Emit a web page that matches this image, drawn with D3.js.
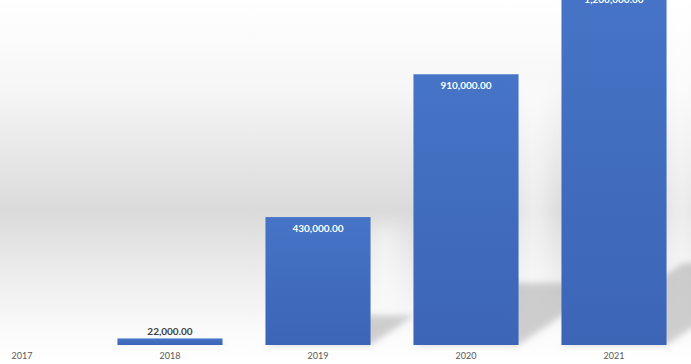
<!DOCTYPE html>
<html>
<head>
<meta charset="utf-8">
<script src="https://cdn.jsdelivr.net/npm/d3@7"></script>
<style>
  html, body { margin: 0; padding: 0; background: #fff; }
  #chart { width: 691px; height: 364px; overflow: hidden; }
  text { font-family: Lato, "Open Sans", sans-serif; }
</style>
</head>
<body>
<div id="chart"></div>
<script>
const years = ["2017", "2018", "2019", "2020", "2021"]
const amounts = [0, 22000, 430000, 910000, 1200000]
const amountLabels = ["", "22,000.00", "430,000.00", "910,000.00", "1,200,000.00"]

const width = 691
const height = 364

const svg = d3.select("#chart")
  .append("svg")
  .attr("width", width)
  .attr("height", height)

const defs = svg.append("defs")

// background: white top, grey band in the middle, white again at the floor
const bg = defs.append("linearGradient")
  .attr("id", "bg").attr("x1", 0).attr("y1", 0).attr("x2", 0).attr("y2", 1)
bg.append("stop").attr("offset", "0%").attr("stop-color", "#ffffff")
bg.append("stop").attr("offset", "25%").attr("stop-color", "#f6f6f6")
bg.append("stop").attr("offset", "58%").attr("stop-color", "#dadada")
bg.append("stop").attr("offset", "75%").attr("stop-color", "#ececec")
bg.append("stop").attr("offset", "92%").attr("stop-color", "#fbfbfb")
bg.append("stop").attr("offset", "100%").attr("stop-color", "#ffffff")

const barFill = defs.append("linearGradient")
  .attr("id", "barFill").attr("x1", 0).attr("y1", 0).attr("x2", 0).attr("y2", 1)
barFill.append("stop").attr("offset", "0%").attr("stop-color", "#4674c6")
barFill.append("stop").attr("offset", "100%").attr("stop-color", "#3c65b6")

defs.append("filter").attr("id", "soft")
  .attr("x", "-50%").attr("y", "-50%").attr("width", "200%").attr("height", "200%")
  .append("feGaussianBlur").attr("stdDeviation", 3)

defs.append("filter").attr("id", "glow")
  .attr("x", "-50%").attr("y", "-50%").attr("width", "200%").attr("height", "200%")
  .append("feGaussianBlur").attr("stdDeviation", 10)

svg.append("rect")
  .attr("width", width)
  .attr("height", height)
  .attr("fill", "url(#bg)")

// Scales (chart is cropped a little on the left and top)
const x = d3.scaleBand()
  .domain(years)
  .range([-52, 688])
  .paddingInner(0.29)
  .paddingOuter(0.145)

const y = d3.scaleLinear()
  .domain([0, 1200000])
  .range([345, -12])

const data = years.map((yr, i) => ({ year: yr, value: amounts[i], label: amountLabels[i] }))
const shown = data.filter(d => d.value > 0)

// whitish glow right of each bar
svg.append("g")
  .selectAll("rect")
  .data(shown)
  .join("rect")
  .attr("x", d => x(d.year) + x.bandwidth())
  .attr("y", d => y(d.value) + 10)
  .attr("width", 30)
  .attr("height", d => Math.max(0, y(0) - y(d.value) - 40))
  .attr("fill", "#ffffff")
  .attr("opacity", 0.55)
  .attr("filter", "url(#glow)")

// perspective shadows thrown up and to the right
svg.append("g")
  .selectAll("path")
  .data(shown)
  .join("path")
  .attr("d", d => {
    const x0 = x(d.year)
    const x1 = x0 + x.bandwidth()
    const h = y(0) - y(d.value)
    const sy = h * 0.23
    const sx = sy * 1.48
    const b = y(0)
    return `M${x0},${b}L${x1},${b}L${x1 + sx},${b - sy}L${x0 + sx},${b - sy}Z`
  })
  .attr("fill", "#9a9a9a")
  .attr("opacity", 0.45)
  .attr("filter", "url(#soft)")

// Bars
svg.append("g")
  .selectAll("rect")
  .data(shown)
  .join("rect")
  .attr("x", d => x(d.year))
  .attr("y", d => y(d.value))
  .attr("width", x.bandwidth())
  .attr("height", d => y(0) - y(d.value))
  .attr("fill", "url(#barFill)")

// Value labels: inside tall bars, above the short one
svg.append("g")
  .selectAll("text")
  .data(shown)
  .join("text")
  .attr("x", d => x(d.year) + x.bandwidth() / 2)
  .attr("y", d => (y(0) - y(d.value) > 30 ? y(d.value) + 15 : y(d.value) - 3))
  .attr("text-anchor", "middle")
  .attr("font-size", 10)
  .attr("font-weight", "bold")
  .attr("fill", d => (y(0) - y(d.value) > 30 ? "#ffffff" : "#404040"))
  .text(d => d.label)

// X axis
const xAxis = svg.append("g")
  .attr("transform", `translate(0,${y(0)})`)
  .call(d3.axisBottom(x).tickSize(0).tickPadding(8))
xAxis.select(".domain").remove()
xAxis.selectAll("text")
  .attr("font-family", "Lato, 'Open Sans', sans-serif")
  .attr("font-size", 9)
  .attr("fill", "#595959")
</script>
</body>
</html>
